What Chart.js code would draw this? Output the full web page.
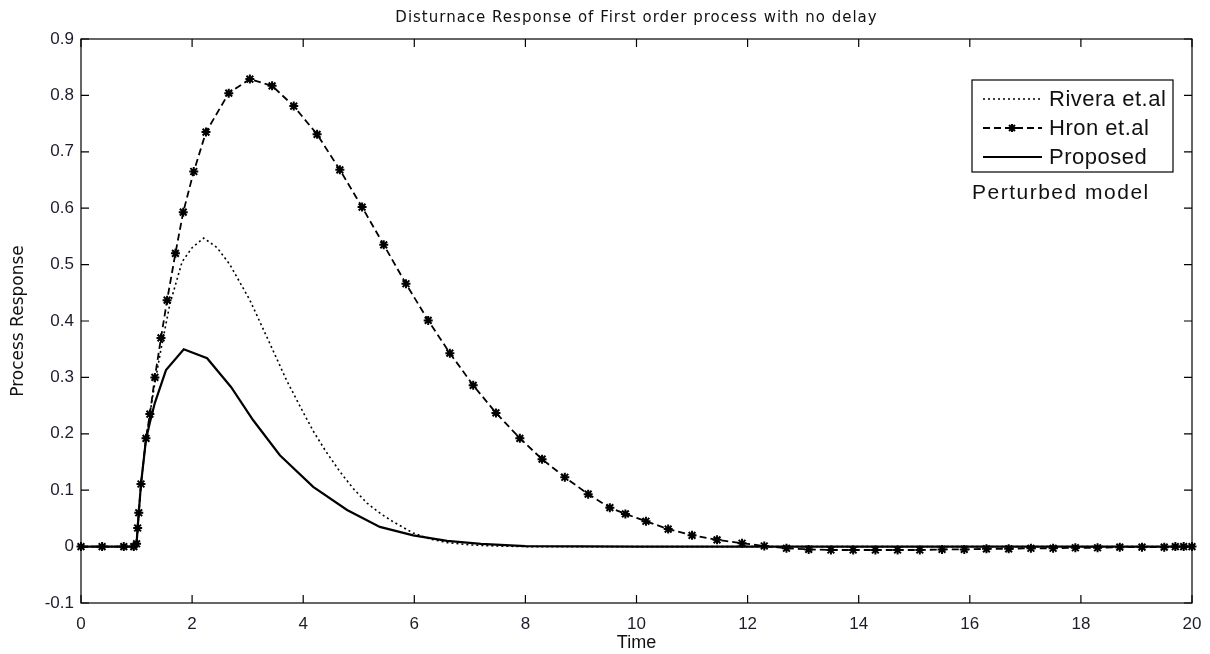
<!DOCTYPE html>
<html>
<head>
<meta charset="utf-8">
<script src="https://cdn.jsdelivr.net/npm/chart.js@4.4.0/dist/chart.umd.min.js"></script>
<style>
  html, body { margin: 0; padding: 0; background: #fff; }
  #wrap { width: 1210px; height: 654px; position: relative; }
</style>
</head>
<body>
<div id="wrap"><canvas id="grafico"></canvas></div>
<script>
// Rivera et.al (pontilhado)
const riveraX = [0, 0.98, 1.0, 1.04, 1.08, 1.17, 1.24, 1.33, 1.44, 1.6, 1.82, 2.0, 2.21, 2.45, 2.68, 3.04, 3.4, 3.7, 4.0, 4.18, 4.4, 4.66, 4.9, 5.15, 5.4, 5.62, 5.98, 6.3, 6.6, 7.0, 7.5, 8, 10, 12, 14, 16, 18, 20];
const riveraY = [0, 0, 0.005, 0.06, 0.11, 0.19, 0.235, 0.29, 0.35, 0.43, 0.505, 0.53, 0.547, 0.53, 0.50, 0.437, 0.36, 0.295, 0.238, 0.205, 0.17, 0.133, 0.103, 0.077, 0.058, 0.044, 0.024, 0.013, 0.007, 0.003, 0.001, 0, 0, 0, 0, 0, 0, 0];

// Hron et.al (tracejado com marcador *)
const hronX = [0, 0.38, 0.77, 0.95, 1.0, 1.02, 1.04, 1.08, 1.17, 1.24, 1.33, 1.44, 1.55, 1.7, 1.84, 2.03, 2.25, 2.66, 3.04, 3.44, 3.83, 4.25, 4.66, 5.06, 5.45, 5.85, 6.25, 6.64, 7.06, 7.47, 7.9, 8.3, 8.71, 9.13, 9.52, 9.8, 10.17, 10.57, 11.0, 11.45, 11.9, 12.3, 12.7, 13.1, 13.5, 13.9, 14.3, 14.7, 15.1, 15.5, 15.9, 16.3, 16.7, 17.1, 17.5, 17.9, 18.3, 18.7, 19.1, 19.5, 19.7, 19.85, 20];
const hronY = [0, 0, 0, 0, 0.005, 0.033, 0.06, 0.111, 0.192, 0.235, 0.30, 0.37, 0.437, 0.52, 0.593, 0.665, 0.735, 0.804, 0.829, 0.817, 0.781, 0.731, 0.668, 0.602, 0.535, 0.466, 0.401, 0.343, 0.286, 0.237, 0.192, 0.155, 0.123, 0.093, 0.069, 0.058, 0.045, 0.031, 0.02, 0.012, 0.006, 0.001, -0.003, -0.005, -0.006, -0.006, -0.006, -0.006, -0.006, -0.005, -0.005, -0.004, -0.004, -0.003, -0.003, -0.002, -0.002, -0.001, -0.001, -0.001, 0, 0, 0];

// Proposed (contínuo)
const propX = [0, 0.98, 1.0, 1.04, 1.08, 1.17, 1.24, 1.33, 1.53, 1.85, 2.27, 2.7, 3.1, 3.58, 4.18, 4.79, 5.38, 5.98, 6.59, 7.2, 8, 10, 20];
const propY = [0, 0, 0.005, 0.06, 0.111, 0.19, 0.22, 0.255, 0.313, 0.35, 0.334, 0.283, 0.224, 0.162, 0.106, 0.065, 0.035, 0.02, 0.01, 0.005, 0.001, 0, 0];

const nomesSeries = ['Rivera et.al', 'Hron et.al', 'Proposed'];
const tituloGrafico = 'Disturnace Response of First order process with no delay';
const tituloX = 'Time';
const tituloY = 'Process Response';
const notaModelo = 'Perturbed model';

const pares = (xs, ys) => xs.map((x, i) => ({ x: x, y: ys[i] }));

const estilos = [
  { dash: [2, 3], width: 1.6, marker: false },
  { dash: [7, 4], width: 1.8, marker: true },
  { dash: [], width: 2.2, marker: false }
];

function desenhaEstrela(ctx, x, y, r) {
  ctx.save();
  ctx.setLineDash([]);
  ctx.lineWidth = 2;
  ctx.beginPath();
  ctx.moveTo(x - r, y); ctx.lineTo(x + r, y);
  ctx.moveTo(x, y - r); ctx.lineTo(x, y + r);
  const d = r * 0.75;
  ctx.moveTo(x - d, y - d); ctx.lineTo(x + d, y + d);
  ctx.moveTo(x - d, y + d); ctx.lineTo(x + d, y - d);
  ctx.stroke();
  ctx.restore();
}

// moldura, ticks internos, título, legenda
const molduraPlugin = {
  id: 'moldura',
  afterDraw(chart) {
    const { ctx, chartArea: a, scales } = chart;
    ctx.save();
    ctx.strokeStyle = '#000';
    ctx.lineWidth = 1.2;
    ctx.strokeRect(a.left, a.top, a.right - a.left, a.bottom - a.top);
    const tl = 8;
    ctx.beginPath();
    scales.x.ticks.forEach(t => {
      const px = scales.x.getPixelForValue(t.value);
      ctx.moveTo(px, a.bottom); ctx.lineTo(px, a.bottom - tl);
      ctx.moveTo(px, a.top); ctx.lineTo(px, a.top + tl);
    });
    scales.y.ticks.forEach(t => {
      const py = scales.y.getPixelForValue(t.value);
      ctx.moveTo(a.left, py); ctx.lineTo(a.left + tl, py);
      ctx.moveTo(a.right, py); ctx.lineTo(a.right - tl, py);
    });
    ctx.stroke();

    // título
    ctx.fillStyle = '#111';
    ctx.font = '15px "DejaVu Sans", sans-serif';
    ctx.letterSpacing = '1px';
    ctx.textAlign = 'center';
    ctx.textBaseline = 'middle';
    ctx.fillText(tituloGrafico, (a.left + a.right) / 2, 18);
    ctx.letterSpacing = '0px';

    // legenda
    const bx = 972, by = 80, bw = 201, bh = 92;
    ctx.fillStyle = '#fff';
    ctx.fillRect(bx, by, bw, bh);
    ctx.lineWidth = 1.2;
    ctx.strokeRect(bx, by, bw, bh);
    ctx.font = '22px "Liberation Sans", Arial, sans-serif';
    ctx.letterSpacing = '0.5px';
    ctx.textAlign = 'left';
    nomesSeries.forEach((nome, i) => {
      const y = by + 19 + i * 29;
      const e = estilos[i];
      ctx.setLineDash(e.dash);
      ctx.lineWidth = e.width;
      ctx.beginPath();
      ctx.moveTo(983, y); ctx.lineTo(1042, y);
      ctx.stroke();
      ctx.setLineDash([]);
      if (e.marker) desenhaEstrela(ctx, 1012, y, 4);
      ctx.fillStyle = '#111';
      ctx.fillText(nome, 1049, y + 1);
    });
    ctx.font = '21px "Liberation Sans", Arial, sans-serif';
    ctx.letterSpacing = '1.5px';
    ctx.fillText(notaModelo, 972, 193);
    ctx.letterSpacing = '0px';
    ctx.restore();
  }
};

// marcador * para Hron
const estrelaPlugin = {
  id: 'estrela',
  afterDatasetsDraw(chart) {
    const meta = chart.getDatasetMeta(1);
    const ctx = chart.ctx;
    ctx.save();
    ctx.strokeStyle = '#000';
    meta.data.forEach(p => desenhaEstrela(ctx, p.x, p.y, 4.5));
    ctx.restore();
  }
};

new Chart(document.getElementById('grafico'), {
  type: 'line',
  data: {
    datasets: [
      { label: nomesSeries[0], data: pares(riveraX, riveraY), borderColor: '#000', borderWidth: estilos[0].width, borderDash: estilos[0].dash, pointRadius: 0, tension: 0 },
      { label: nomesSeries[1], data: pares(hronX, hronY), borderColor: '#000', borderWidth: estilos[1].width, borderDash: estilos[1].dash, pointRadius: 0, tension: 0 },
      { label: nomesSeries[2], data: pares(propX, propY), borderColor: '#000', borderWidth: estilos[2].width, borderDash: estilos[2].dash, pointRadius: 0, tension: 0 }
    ]
  },
  options: {
    responsive: true,
    maintainAspectRatio: false,
    animation: false,
    events: [],
    layout: { padding: { top: 39, right: 18, left: 0, bottom: 0 } },
    plugins: {
      legend: { display: false },
      tooltip: { enabled: false }
    },
    scales: {
      x: {
        type: 'linear',
        min: 0, max: 20,
        ticks: { stepSize: 2, color: '#1c1c2c', font: { size: 17, family: '"Liberation Sans", Arial' }, padding: 11, maxRotation: 0 },
        grid: { display: false, drawTicks: false },
        border: { display: false },
        title: { display: true, text: tituloX, color: '#111', font: { size: 18, family: '"Liberation Sans", Arial' }, padding: { top: 0, bottom: 0 } },
        afterFit: s => { s.height = 51; s.paddingLeft = 0; s.paddingRight = 0; }
      },
      y: {
        min: -0.1, max: 0.9,
        ticks: {
          stepSize: 0.1, color: '#1c1c2c', font: { size: 17, family: '"Liberation Sans", Arial' }, padding: 7,
          callback: v => Math.abs(v) < 1e-9 ? '0' : v.toFixed(1)
        },
        grid: { display: false, drawTicks: false },
        border: { display: false },
        title: { display: true, text: tituloY, color: '#111', font: { size: 17, family: '"DejaVu Sans"' }, padding: { top: 8, bottom: 0 } },
        afterFit: s => { s.width = 81; s.paddingTop = 0; s.paddingBottom = 0; }
      }
    }
  },
  plugins: [molduraPlugin, estrelaPlugin]
});
</script>
</body>
</html>
